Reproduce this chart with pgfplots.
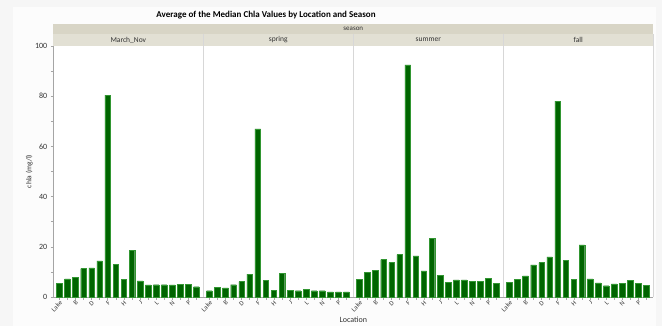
\documentclass[border=0pt]{standalone}
\usepackage{pgfplots}
\pgfplotsset{compat=1.18}
\usepackage{pgfplotstable}
\usepackage{fontspec}
\setmainfont{Carlito}
\definecolor{barfill}{RGB}{0,100,0}
\definecolor{baredge}{RGB}{50,150,50}
\definecolor{strip}{RGB}{226,224,212}
\definecolor{strip2}{RGB}{216,213,198}
\definecolor{axgray}{RGB}{165,165,165}
\definecolor{sep}{RGB}{215,215,215}
\definecolor{outerbg}{RGB}{246,246,246}
\definecolor{innerbg}{RGB}{252,252,252}
\definecolor{txt}{RGB}{50,50,50}

\pgfplotstableread{
x   m     s    su    f
0   5.3   2.5  6.9   5.9
1   7.2   3.9  9.7   6.9
2   7.9   3.6  10.7  8.4
3   11.3  4.9  14.9  12.8
4   11.6  6.1  13.7  13.7
5   14.4  9.1  16.9  16.0
6   80.4  67.0 92.5  78.0
7   12.9  6.7  16.4  14.5
8   7.1   2.7  10.4  6.9
9   18.5  9.5  23.3  20.8
10  6.4   2.7  8.5   7.2
11  4.8   2.5  5.9   5.6
12  4.9   3.1  6.8   4.5
13  4.9   2.5  6.8   5.2
14  4.8   2.5  6.1   5.3
15  5.1   2.0  6.3   6.5
16  5.1   2.0  7.3   5.5
17  4.1   2.0  5.3   4.7
}\data

\pgfplotsset{
  panel/.style={
    scale only axis, width=150pt, height=251pt,
    anchor=south west,
    ymin=0, ymax=100, xmin=-0.75, xmax=17.85,
    ybar, bar width=5.6pt,
    axis x line*=bottom,
    axis line style={axgray, line width=0.5pt},
    xtick={0,2,...,16},
    minor xtick={1,3,...,17},
    xticklabels={Lake,B,D,F,H,J,L,N,P},
    x tick label style={rotate=45, anchor=north east, font=\fontsize{6.5}{7}\selectfont, text=txt, inner sep=0.5pt},
    major tick length=2.5pt, minor tick length=2.5pt,
    tick style={axgray, line width=0.5pt},
    tick align=outside,
    /pgf/number format/assume math mode=true,
    clip=false,
  },
}

\begin{document}
\begin{tikzpicture}
\fill[outerbg] (0,0) rectangle (662pt,326pt);
\fill[innerbg] (13pt,0pt) rectangle (656pt,319pt);

% plot area background
\fill[white] (53.3pt,29pt) rectangle (653.3pt,280pt);

% strips
\fill[strip2] (53.3pt,292pt) rectangle (653.3pt,302pt);
\node[font=\fontsize{7}{8}\selectfont, text=txt] at (353.3pt,297pt) {season};
\fill[strip] (53.3pt,280pt) rectangle (653.3pt,292pt);
\foreach \i/\lab in {0/March\_Nov,1/spring,2/summer,3/fall}{
  \node[font=\fontsize{7.5}{8}\selectfont, text=txt] at ({128.3pt+150pt*\i},286pt) {\lab};
}
\foreach \i in {1,2,3}{
  \draw[sep, line width=0.6pt] ({53.3pt+150pt*\i},29pt) -- ({53.3pt+150pt*\i},292pt);
}
\draw[sep, line width=0.6pt] (653.3pt,29pt) -- (653.3pt,292pt);

\begin{axis}[panel, at={(53.3pt,29pt)},
  axis y line*=left,
  ytick={0,20,40,60,80,100},
  minor ytick={10,30,50,70,90},
  y tick label style={font=\fontsize{8}{9}\selectfont, text=txt},
  ylabel={chla (mg/l)},
  ylabel style={font=\fontsize{7.5}{8}\selectfont, text=txt, at={(axis description cs:0,0.5)}, anchor=south, yshift=17pt},
]
\addplot[fill=barfill, draw=baredge, line width=0.4pt] table[x=x,y=m]{\data};
\end{axis}

\begin{axis}[panel, at={(203.3pt,29pt)}, axis y line=none]
\addplot[fill=barfill, draw=baredge, line width=0.4pt] table[x=x,y=s]{\data};
\end{axis}

\begin{axis}[panel, at={(353.3pt,29pt)}, axis y line=none]
\addplot[fill=barfill, draw=baredge, line width=0.4pt] table[x=x,y=su]{\data};
\end{axis}

\begin{axis}[panel, at={(503.3pt,29pt)}, axis y line=none]
\addplot[fill=barfill, draw=baredge, line width=0.4pt] table[x=x,y=f]{\data};
\end{axis}

\node[font=\bfseries\fontsize{9}{11}\selectfont, text=black] at (266pt,310.5pt) {Average of the Median Chla Values by Location and Season};
\node[font=\fontsize{8}{9}\selectfont, text=txt] at (353.3pt,6pt) {Location};
\end{tikzpicture}
\end{document}
